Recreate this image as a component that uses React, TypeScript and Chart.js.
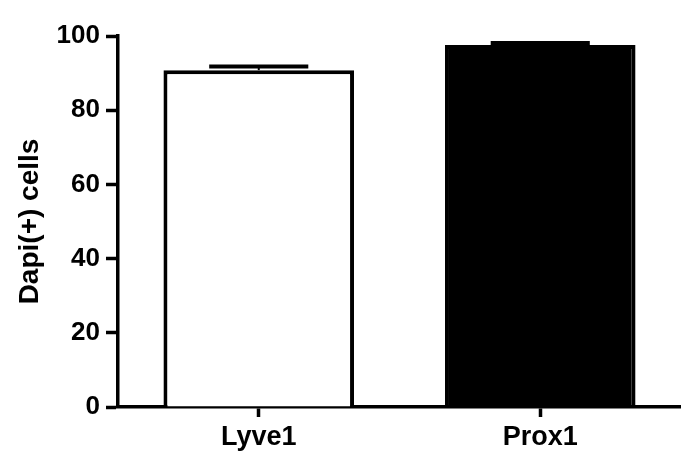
import React, { useEffect, useRef } from "react";
import { Chart, registerables } from "chart.js";

Chart.register(...registerables);

const categories = ["Lyve1", "Prox1"];
const values = [90.8, 97.6];
const errors = [1.0, 0.5];
const barColors = ["#ffffff", "#000000"];
const yTicks = [0, 20, 40, 60, 80, 100];

const FONT = "'Liberation Sans', Arial, Helvetica, sans-serif";

const errorBarPlugin = {
  id: "errorBars",
  afterDatasetsDraw(chart: any) {
    const ctx = chart.ctx;
    const yScale = chart.scales.y;
    const meta = chart.getDatasetMeta(0);
    ctx.save();
    ctx.strokeStyle = "#000";
    ctx.lineCap = "butt";
    meta.data.forEach((bar: any, i: number) => {
      const x = bar.x;
      const w = bar.width;
      const yTop = yScale.getPixelForValue(values[i] + errors[i]);
      const yBar = yScale.getPixelForValue(values[i]);
      ctx.lineWidth = 2;
      ctx.beginPath();
      ctx.moveTo(x, yBar);
      ctx.lineTo(x, yTop);
      ctx.stroke();
      ctx.lineWidth = 4;
      ctx.beginPath();
      ctx.moveTo(x - w * 0.26, yTop);
      ctx.lineTo(x + w * 0.26, yTop);
      ctx.stroke();
    });
    ctx.restore();
  },
};

export default function App() {
  const ref = useRef<HTMLCanvasElement | null>(null);
  useEffect(() => {
    document.body.style.margin = "0";
    const canvas = ref.current;
    if (!canvas) return;
    const chart = new Chart(canvas, {
      type: "bar",
      data: {
        labels: categories,
        datasets: [
          {
            data: values,
            backgroundColor: barColors,
            borderColor: "#000",
            borderWidth: 4,
            barPercentage: 1,
            categoryPercentage: 0.677,
          },
        ],
      },
      options: {
        responsive: false,
        animation: false,
        devicePixelRatio: 1,
        layout: { padding: { top: 36, right: 0, left: 0, bottom: 0 } },
        plugins: {
          legend: { display: false },
          tooltip: { enabled: false },
        },
        scales: {
          x: {
            offset: true,
            grid: {
              display: true,
              drawOnChartArea: false,
              drawTicks: true,
              tickLength: 10,
              tickWidth: 3.5,
              tickColor: "#000",
              offset: false,
            },
            border: { display: true, color: "#000", width: 3.5 },
            ticks: {
              color: "#000",
              padding: 4,
              font: { family: FONT, size: 27, weight: "bold" },
            },
            afterFit: (scale: any) => {
              scale.height = 51;
            },
          },
          y: {
            min: 0,
            max: 100,
            afterBuildTicks: (scale: any) => {
              scale.ticks = yTicks.map((v) => ({ value: v }));
            },
            grid: {
              display: true,
              drawOnChartArea: false,
              drawTicks: true,
              tickLength: 12,
              tickWidth: 3.5,
              tickColor: "#000",
            },
            border: { display: true, color: "#000", width: 3.5 },
            ticks: {
              color: "#000",
              padding: 6,
              font: { family: FONT, size: 26, weight: "bold" },
            },
            title: {
              display: true,
              text: "Dapi(+) cells",
              color: "#000",
              padding: { top: 13, bottom: 0 },
              font: { family: FONT, size: 28, weight: "bold" },
            },
            afterFit: (scale: any) => {
              scale.width = 118;
            },
          },
        },
      },
      plugins: [errorBarPlugin],
    } as any);
    return () => chart.destroy();
  }, []);
  return (
    <div style={{ width: 681, height: 458 }}>
      <canvas ref={ref} width={681} height={458} style={{ display: "block" }} />
    </div>
  );
}
